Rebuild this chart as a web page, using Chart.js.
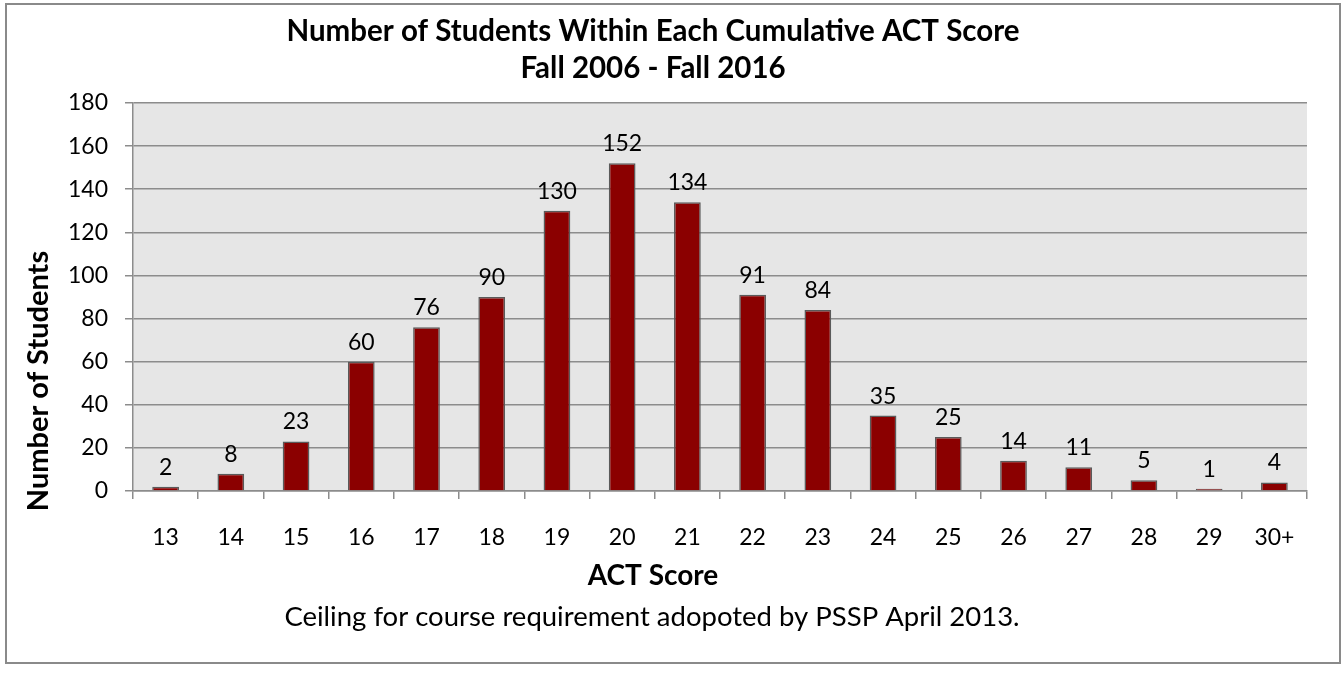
<!DOCTYPE html>
<html>
<head>
<meta charset="utf-8">
<script src="https://cdn.jsdelivr.net/npm/chart.js@4.4.0/dist/chart.umd.min.js"></script>
<style>
    html, body { margin: 0; padding: 0; background: #fff; }
    #wrap { width: 1343px; height: 677px; position: relative; }
</style>
</head>
<body>
<div id="wrap"><canvas id="actChart" width="1343" height="677"></canvas></div>
<script>
const scores = ['13', '14', '15', '16', '17', '18', '19', '20', '21', '22', '23', '24', '25', '26', '27', '28', '29', '30+'];
const students = [2, 8, 23, 60, 76, 90, 130, 152, 134, 91, 84, 35, 25, 14, 11, 5, 1, 4];
const yTicks = [0, 20, 40, 60, 80, 100, 120, 140, 160, 180];

const titleLines = ['Number of Students Within Each Cumulative ACT Score', 'Fall 2006 - Fall 2016'];
const xTitle = 'ACT Score';
const yTitle = 'Number of Students';
const footnote = 'Ceiling for course requirement adopoted by PSSP April 2013.';

const FONT = 'Lato, "Open Sans", sans-serif';
const gridGray = '#8c8c8c';

// frame, plot background and the free text around the chart
const decorations = {
    id: 'decorations',
    beforeDraw(chart) {
        const ctx = chart.ctx;
        const a = chart.chartArea;
        ctx.save();
        ctx.fillStyle = '#ffffff';
        ctx.fillRect(0, 0, chart.width, chart.height);
        ctx.strokeStyle = '#8a8a8a';
        ctx.lineWidth = 2;
        ctx.strokeRect(6, 4, 1334, 659);
        ctx.fillStyle = '#e6e6e6';
        ctx.fillRect(a.left, a.top, a.right - a.left, a.bottom - a.top);
        ctx.restore();
    },
    afterDraw(chart) {
        const ctx = chart.ctx;
        const cx = 653;
        ctx.save();
        ctx.fillStyle = '#000';
        ctx.textAlign = 'center';
        ctx.textBaseline = 'middle';
        ctx.font = 'bold 29.5px ' + FONT;
        ctx.fillText(titleLines[0], cx, 31);
        ctx.fillText(titleLines[1], cx, 68);
        ctx.font = 'bold 28px ' + FONT;
        ctx.fillText(xTitle, cx, 576);
        ctx.font = '27.5px ' + FONT;
        ctx.fillText(footnote, 652, 617);
        ctx.translate(39, 381);
        ctx.rotate(-Math.PI / 2);
        ctx.font = 'bold 29px ' + FONT;
        ctx.fillText(yTitle, 0, 0);
        ctx.restore();
    }
};

// value labels above the bars
const barValues = {
    id: 'barValues',
    afterDatasetsDraw(chart) {
        const ctx = chart.ctx;
        const meta = chart.getDatasetMeta(0);
        ctx.save();
        ctx.fillStyle = '#000';
        ctx.font = '23px ' + FONT;
        ctx.textAlign = 'center';
        ctx.textBaseline = 'alphabetic';
        meta.data.forEach((bar, i) => {
            ctx.fillText(String(students[i]), bar.x, bar.y - 12);
        });
        ctx.restore();
    }
};

const bar_data = {
    labels: scores,
    datasets: [{
        label: 'Number of Students',
        data: students,
        backgroundColor: '#8b0000',
        borderColor: '#5a5a5a',
        borderWidth: 1.5,
        barPercentage: 0.41,
        categoryPercentage: 1.0
    }]
};

const configBar = {
    type: 'bar',
    data: bar_data,
    options: {
        responsive: false,
        animation: false,
        layout: {
            padding: { top: 103, right: 36, left: 0, bottom: 0 }
        },
        plugins: {
            legend: { display: false },
            title: { display: false },
            tooltip: { enabled: false }
        },
        scales: {
            x: {
                afterFit(scale) { scale.height = 186; },
                grid: {
                    offset: true,
                    drawOnChartArea: false,
                    drawTicks: true,
                    tickLength: 8,
                    color: gridGray,
                    lineWidth: 1.5
                },
                border: { color: gridGray, width: 1.5 },
                ticks: {
                    color: '#000',
                    font: { family: FONT, size: 23 },
                    padding: 25,
                    maxRotation: 0,
                    autoSkip: false
                }
            },
            y: {
                min: 0,
                max: 180,
                afterFit(scale) { scale.width = 133; },
                afterBuildTicks(scale) { scale.ticks = yTicks.map(v => ({ value: v })); },
                grid: {
                    color: gridGray,
                    lineWidth: 1.5,
                    tickLength: 8
                },
                border: { color: gridGray, width: 1.5 },
                ticks: {
                    color: '#000',
                    font: { family: FONT, size: 23 },
                    padding: 17
                }
            }
        }
    },
    plugins: [decorations, barValues]
};

const BarChart = new Chart(
    document.getElementById('actChart'),
    configBar
);
</script>
</body>
</html>
